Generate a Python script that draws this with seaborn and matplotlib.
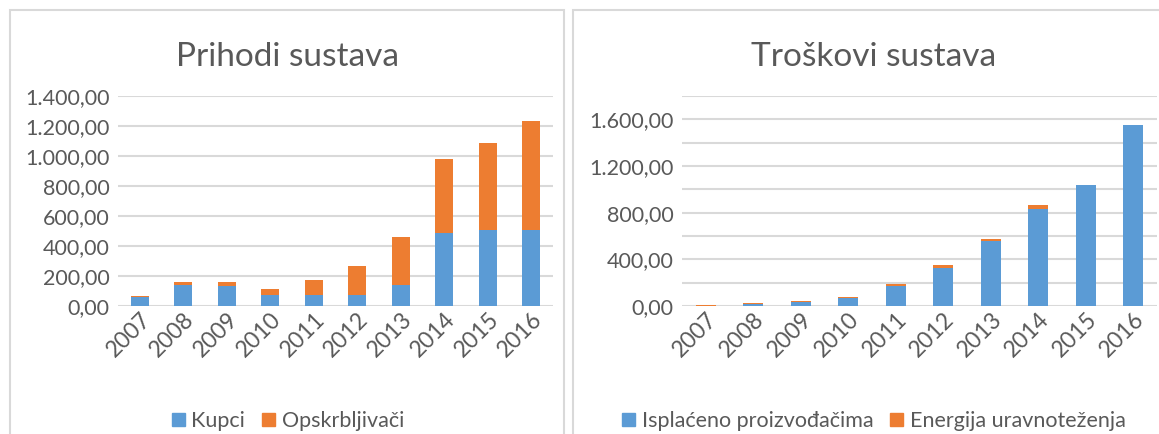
import numpy as np
import pandas as pd
import matplotlib
matplotlib.use("Agg")
import matplotlib.pyplot as plt
from matplotlib.patches import Rectangle, Patch
from matplotlib.ticker import FuncFormatter, MultipleLocator
import seaborn as sns

# data
godine = ['2007', '2008', '2009', '2010', '2011', '2012', '2013', '2014', '2015', '2016']
kupci = [60, 138, 133, 71, 73, 73, 140, 487, 507, 507]
opskrbljivaci = [7, 22, 27, 42, 100, 194, 320, 493, 580, 726]
isplaceno = [1, 17, 37, 72, 175, 330, 553, 834, 1041, 1548]
energija = [4, 8, 8, 8, 17, 23, 23, 35, 0, 0]

plava = '#5B9BD5'
narancasta = '#ED7D31'
siva = '#595959'

sns.set_theme(style='white')
plt.rcParams['font.family'] = ['Lato', 'DejaVu Sans']

W, H = 1159, 434
fig = plt.figure(figsize=(W / 100, H / 100), dpi=100)

# chart area borders
for x0, x1 in [(10, 564), (573, 1170)]:
    fig.patches.append(Rectangle((x0 / W, -0.05), (x1 - x0) / W, (H - 10) / H + 0.05,
                                 transform=fig.transFigure, fill=False,
                                 edgecolor='#D9D9D9', lw=1.5))


def fmt(v, pos):
    s = f"{v:,.2f}"
    return s.replace(',', 'X').replace('.', ',').replace('X', '.')


def crtaj(ax, donji, gornji, naslov, ymax, korak, mali, imena, sredina):
    df = pd.DataFrame({'god': godine,
                       'ukupno': np.array(donji) + np.array(gornji),
                       'donji': donji})
    sns.barplot(data=df, x='god', y='ukupno', color=narancasta, width=0.42,
                saturation=1, linewidth=0, ax=ax, zorder=3)
    sns.barplot(data=df, x='god', y='donji', color=plava, width=0.42,
                saturation=1, linewidth=0, ax=ax, zorder=4)
    ax.set_ylim(0, ymax)
    ax.set_xlim(-0.5, 9.5)
    ax.yaxis.set_major_locator(MultipleLocator(korak))
    ax.yaxis.set_minor_locator(MultipleLocator(mali))
    ax.yaxis.set_major_formatter(FuncFormatter(fmt))
    ax.grid(True, axis='y', which='both', color='#D9D9D9', lw=1.5, zorder=0)
    ax.set_axisbelow(True)
    for s in ax.spines.values():
        s.set_visible(False)
    ax.set_xlabel('')
    ax.set_ylabel('')
    ax.tick_params(axis='y', which='both', length=0, pad=6, labelsize=15.5, labelcolor=siva)
    ax.tick_params(axis='x', length=0, pad=2, labelsize=16.5, labelcolor=siva)
    for t in ax.get_xticklabels():
        t.set_rotation(45)
        t.set_ha('right')
        t.set_va('top')
        t.set_rotation_mode('anchor')
    fig.text(sredina / W, 1 - 57 / H, naslov, ha='center', va='center',
             fontsize=24, color=siva)
    rucke = [Patch(color=plava), Patch(color=narancasta)]
    fig.legend(rucke, imena, loc='center', bbox_to_anchor=(sredina / W, 1 - 421 / H),
               ncol=2, frameon=False, fontsize=15.5, labelcolor=siva,
               handlelength=0.6, handleheight=0.6, handletextpad=0.3,
               columnspacing=0.8)


ax1 = fig.add_axes([118 / W, 128 / H, 435 / W, 210 / H])
crtaj(ax1, kupci, opskrbljivaci, 'Prihodi sustava', 1400, 200, 200,
      ['Kupci', 'Opskrbljivači'], 288)

ax2 = fig.add_axes([682 / W, 128 / H, 475 / W, 210 / H])
crtaj(ax2, isplaceno, energija, 'Troškovi sustava', 1800, 400, 200,
      ['Isplaćeno proizvođačima', 'Energija uravnoteženja'], 874)

fig.savefig('out.png', dpi=100)
